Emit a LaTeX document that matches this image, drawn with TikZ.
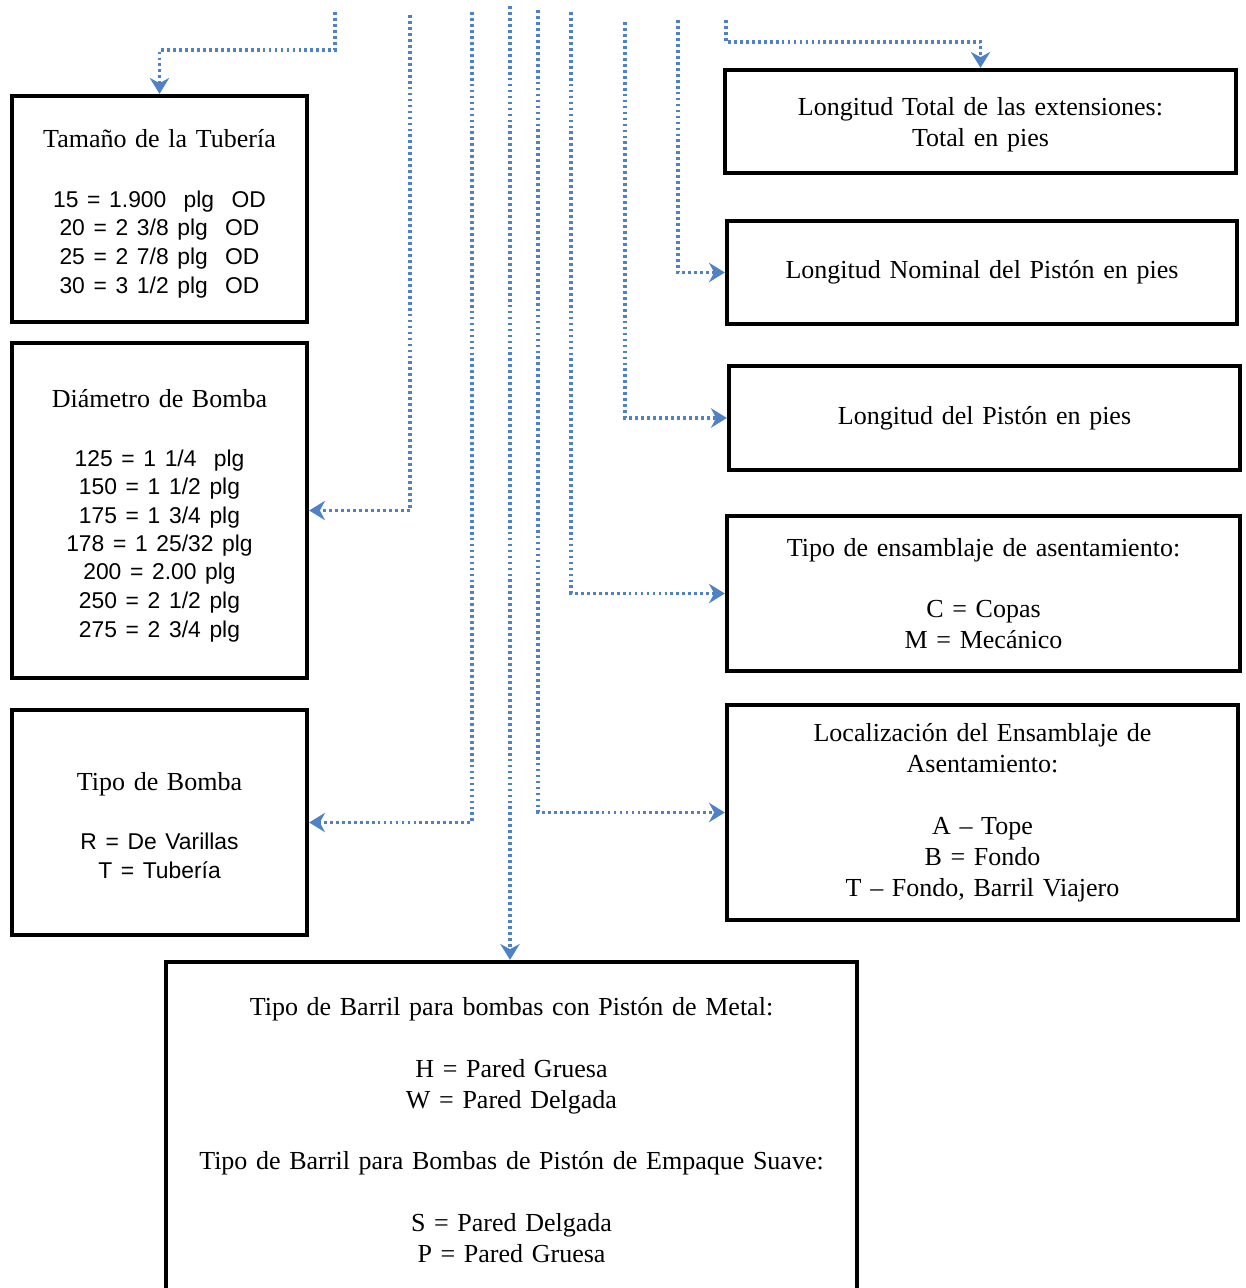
\documentclass[tikz,border=0pt]{standalone}
\usepackage{fontspec}
\setmainfont{Liberation Serif}
\setsansfont{Liberation Sans}
\usetikzlibrary{arrows.meta}
\definecolor{azulpuntos}{RGB}{79,129,199}

\begin{document}
\begin{tikzpicture}[x=0.02cm, y=-0.02cm,
	caja/.style={draw, line width=2.5pt, align=center, inner sep=0pt,
		font=\fontsize{14.8}{17.6}\selectfont},
	lista/.style={font=\fontsize{14.8}{16.4}\selectfont},
	flecha/.style={azulpuntos, line width=1.8pt, dash pattern=on 1.6pt off 1.8pt,
		-{Stealth[length=9pt,width=11pt]}}]

	\path[use as bounding box, clip] (0,0) rectangle (1245,1288);

	% Cajas de la izquierda
	\node[caja, lista, minimum width=5.9cm, text width=5.5cm, minimum height=4.52cm] (tub) at (159.5,209)
		{\rule{0pt}{16pt}Tamaño de la Tubería\\[17.4pt]
		\sffamily\fontsize{13}{16.4}\selectfont
		15 = 1.900\ \ plg\ \ OD\\ 20 = 2 3/8 plg\ \ OD\\ 25 = 2 7/8 plg\ \ OD\\ 30 = 3 1/2 plg\ \ OD};

	\node[caja, lista, minimum width=5.9cm, text width=5.5cm, minimum height=6.7cm] (dia) at (159.5,510.5)
		{\rule{0pt}{16pt}Diámetro de Bomba\\[17.4pt]
		\sffamily\fontsize{13}{16.2}\selectfont
		125 = 1 1/4\ \ plg\\ 150 = 1 1/2 plg\\ 175 = 1 3/4 plg\\ 178 = 1 25/32 plg\\
		200 = 2.00 plg\\ 250 = 2 1/2 plg\\ 275 = 2 3/4 plg};

	\node[caja, lista, minimum width=5.9cm, text width=5.5cm, minimum height=4.5cm] (bom) at (159.5,822.5)
		{\rule{0pt}{14pt}Tipo de Bomba\\[17.4pt]
		\sffamily\fontsize{13}{16.4}\selectfont
		R = De Varillas\\ T = Tubería};

	% Caja de abajo (cortada por el borde)
	\node[caja, minimum width=13.82cm, text width=13.4cm, minimum height=6.72cm] (bar) at (511.5,1130)
		{Tipo de Barril para bombas con Pistón de Metal:\\[\baselineskip]
		H = Pared Gruesa\\ W = Pared Delgada\\[\baselineskip]
		Tipo de Barril para Bombas de Pistón de Empaque Suave:\\[\baselineskip]
		S = Pared Delgada\\ P = Pared Gruesa};

	% Cajas de la derecha
	\node[caja, minimum width=10.22cm, text width=9.8cm, minimum height=2.06cm] (tot) at (980.5,121.5)
		{\rule{0pt}{14pt}Longitud Total de las extensiones:\\ Total en pies};
	\node[caja, minimum width=10.2cm, text width=9.8cm, minimum height=2.06cm] (nom) at (982,272.5)
		{Longitud Nominal del Pistón en pies};
	\node[caja, minimum width=10.22cm, text width=9.8cm, minimum height=2.08cm] (pis) at (984.5,418)
		{Longitud del Pistón en pies};
	\node[caja, minimum width=10.26cm, text width=9.8cm, minimum height=3.1cm] (ens) at (983.5,593.5)
		{Tipo de ensamblaje de asentamiento:\\[\baselineskip] C = Copas\\ M = Mecánico};
	\node[caja, minimum width=10.22cm, text width=9.8cm, minimum height=4.3cm] (loc) at (982.5,812.5)
		{Localización del Ensamblaje de\\ Asentamiento:\\[\baselineskip]
		A -- Tope\\ B = Fondo\\ T -- Fondo, Barril Viajero};

	% Inicio de las líneas punteadas
	\foreach \n/\x/\y in {s1/335/12, s2/410/15, s3/472/12, s4/510/6, s5/538/10,
		s6/571/12, s7/625/22, s8/678/20, s9/726/20}
		\coordinate (\n) at (\x,\y);

	% Flechas
	\draw[flecha] (s1) -- ++(0,38) -| (tub.north);
	\draw[flecha] (s2) |- (dia.east);
	\draw[flecha] (s3) |- (bom.east);
	\draw[flecha] (s4) -- (s4 |- bar.north);
	\foreach \s/\b in {s5/loc, s6/ens, s7/pis, s8/nom}
		\draw[flecha] (\s) |- (\b.west);
	\draw[flecha] (s9) -- ++(0,22) -| (tot.north);

\end{tikzpicture}
\end{document}
